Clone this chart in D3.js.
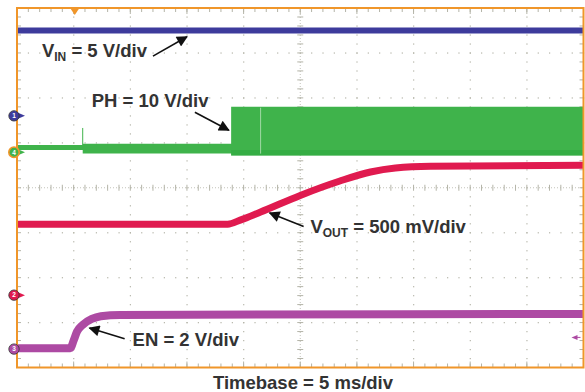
<!DOCTYPE html>
<html>
<head>
<meta charset="utf-8">
<script src="https://cdn.jsdelivr.net/npm/d3@7"></script>
<style>
  html, body { margin: 0; padding: 0; background: #fff; }
  svg { display: block; }
  text { font-family: "Liberation Sans", Arial, sans-serif; font-weight: bold; fill: #333; }
</style>
</head>
<body>
<svg id="chart" width="585" height="392"></svg>
<script>
// ---- Data (time in ms, amplitude in screen divisions) ----
const timeDomain = [0, 50];          // 10 div x 5 ms/div
const divDomain = [-4, 4];           // 8 vertical divisions
const vinTrace = [[0, 3.50], [50, 3.50]];
const voutTrace = [[0, -0.81], [18.6, -0.81], [19.7, -0.72], [21.5, -0.54], [25.0, -0.17],
                   [28.5, 0.15], [31.2, 0.35], [33.4, 0.44], [36.5, 0.48], [50, 0.50]];
const enTrace = [[0, -3.57], [4.7, -3.57], [5.0, -3.40], [5.3, -3.20], [5.8, -3.05],
                 [6.6, -2.92], [7.4, -2.86], [9.1, -2.83], [50, -2.81]];
const phBand = [
  {t: 0, lo: 0.84, hi: 0.95}, {t: 5.8, lo: 0.84, hi: 0.95},
  {t: 5.8, lo: 0.76, hi: 0.98}, {t: 18.9, lo: 0.76, hi: 0.98},
  {t: 18.9, lo: 0.72, hi: 1.80}, {t: 50, lo: 0.72, hi: 1.80}
];
const phSpikes = [[5.8, 1.33]];
const phGlitchTimes = [21.5];
const channelLevels = [1.60, 0.79, -2.39, -3.59];
const channelLabels = ["1", "4", "2", "3"];
const triggerTime = 5.1;
const triggerLevel = -3.33;
const labels = [
  {main: "V", sub: "IN", rest: " = 5 V/div", t: 2.2, d: 2.9},
  {main: "PH = 10 V/div", sub: "", rest: "", t: 6.6, d: 1.8},
  {main: "V", sub: "OUT", rest: " = 500 mV/div", t: 25.9, d: -1.0},
  {main: "EN = 2 V/div", sub: "", rest: "", t: 10.2, d: -3.52}
];
const arrows = [
  {from: [12.0, 2.93], to: [15.0, 3.36]},
  {from: [15.7, 1.68], to: [18.7, 1.28]},
  {from: [25.3, -0.86], to: [22.3, -0.56]},
  {from: [9.5, -3.36], to: [6.4, -3.12]}
];
const xTitle = "Timebase = 5 ms/div";

// ---- Colours ----
const colVin = "#3d3b9c", colPh = "#3fb34b", colVout = "#e01a4f", colEn = "#ad4aa3";
const colBorder = "#f0962a", colGrid = "#b4b4a8";
const chanColors = [colVin, colPh, colVout, colEn];

const svg = d3.select("#chart");
const x = d3.scaleLinear().domain(timeDomain).range([17, 583.5]);
const y = d3.scaleLinear().domain(divDomain).range([367.5, 8]);

// ---- Graticule ----
const g = svg.append("g");
const majorX = d3.range(1, 10).map(i => i * 5);
const majorY = d3.range(-3, 4);
const minorX = d3.range(0, 50.01, 1);
const minorY = d3.range(-4, 4.01, 0.2);
majorX.forEach(t => {
  if (t === 25) return;
  g.selectAll(null).data(minorY).enter().append("rect")
    .attr("x", x(t) - 0.5).attr("y", d => y(d) - 0.5).attr("width", 1.2).attr("height", 1.2)
    .attr("fill", colGrid);
});
majorY.forEach(v => {
  if (v === 0) return;
  g.selectAll(null).data(minorX).enter().append("rect")
    .attr("x", d => x(d) - 0.5).attr("y", y(v) - 0.5).attr("width", 1.2).attr("height", 1.2)
    .attr("fill", colGrid);
});
g.append("line").attr("x1", x(0)).attr("x2", x(50)).attr("y1", y(0)).attr("y2", y(0))
  .attr("stroke", colGrid).attr("stroke-width", 0.8).attr("stroke-dasharray", "1,2");
g.append("line").attr("x1", x(25)).attr("x2", x(25)).attr("y1", y(4)).attr("y2", y(-4))
  .attr("stroke", colGrid).attr("stroke-width", 0.8).attr("stroke-dasharray", "1,2");
g.selectAll(null).data(minorX).enter().append("line")
  .attr("x1", d => x(d)).attr("x2", d => x(d)).attr("y1", y(0) - 3).attr("y2", y(0) + 3)
  .attr("stroke", colGrid).attr("stroke-width", 1);
g.selectAll(null).data(minorY).enter().append("line")
  .attr("y1", d => y(d)).attr("y2", d => y(d)).attr("x1", x(25) - 3).attr("x2", x(25) + 3)
  .attr("stroke", colGrid).attr("stroke-width", 1);
g.selectAll(null).data(minorX).enter().append("line")
  .attr("x1", d => x(d)).attr("x2", d => x(d)).attr("y1", y(4)).attr("y2", y(4) + 4)
  .attr("stroke", colGrid).attr("stroke-width", 1);
g.selectAll(null).data(minorX).enter().append("line")
  .attr("x1", d => x(d)).attr("x2", d => x(d)).attr("y1", y(-4)).attr("y2", y(-4) - 4)
  .attr("stroke", colGrid).attr("stroke-width", 1);
g.selectAll(null).data(minorY).enter().append("line")
  .attr("y1", d => y(d)).attr("y2", d => y(d)).attr("x1", x(0)).attr("x2", x(0) + 4)
  .attr("stroke", colGrid).attr("stroke-width", 1);
g.selectAll(null).data(minorY).enter().append("line")
  .attr("y1", d => y(d)).attr("y2", d => y(d)).attr("x1", x(50)).attr("x2", x(50) - 4)
  .attr("stroke", colGrid).attr("stroke-width", 1);
g.selectAll(null).data(majorX).enter().append("line")
  .attr("x1", d => x(d)).attr("x2", d => x(d)).attr("y1", y(4)).attr("y2", y(4) + 6)
  .attr("stroke", colGrid).attr("stroke-width", 1);
g.selectAll(null).data(majorX).enter().append("line")
  .attr("x1", d => x(d)).attr("x2", d => x(d)).attr("y1", y(-4)).attr("y2", y(-4) - 6)
  .attr("stroke", colGrid).attr("stroke-width", 1);

// ---- Traces ----
const line = d3.line().x(d => x(d[0])).y(d => y(d[1])).curve(d3.curveMonotoneX);
const phArea = d3.area().x(d => x(d.t)).y0(d => y(d.lo)).y1(d => y(d.hi));
svg.append("path").datum(phBand).attr("d", phArea).attr("fill", colPh);
svg.append("path").datum(phBand.filter(d => d.t >= 18.9).slice(1))
  .attr("d", d3.area().x(d => x(d.t)).y0(d => y(d.lo)).y1(d => y(d.lo + 0.12)))
  .attr("fill", "#2fa83f").attr("opacity", 0.6);
svg.selectAll(null).data(phSpikes).enter().append("line")
  .attr("x1", d => x(d[0])).attr("x2", d => x(d[0])).attr("y1", y(0.9)).attr("y2", d => y(d[1]))
  .attr("stroke", colPh).attr("stroke-width", 1);
svg.selectAll(null).data(phGlitchTimes).enter().append("line")
  .attr("x1", d => x(d)).attr("x2", d => x(d)).attr("y1", y(1.78)).attr("y2", y(0.76))
  .attr("stroke", "#9fd9a4").attr("stroke-width", 1);

svg.append("path").datum(vinTrace).attr("d", line).attr("fill", "none")
  .attr("stroke", colVin).attr("stroke-width", 6);
svg.append("path").datum(voutTrace).attr("d", line).attr("fill", "none")
  .attr("stroke", colVout).attr("stroke-width", 7);
svg.append("path").datum(enTrace).attr("d", line).attr("fill", "none")
  .attr("stroke", colEn).attr("stroke-width", 8);

// ---- Border ----
svg.append("path")
  .attr("d", `M${x(0)},${y(-4)} V${y(4)} H${x(50)} V${y(-4)} Z`)
  .attr("fill", "none").attr("stroke", colBorder).attr("stroke-width", 2);

svg.append("path")
  .attr("d", `M${x(triggerTime) - 4},${y(4) + 1} L${x(triggerTime) + 4},${y(4) + 1} L${x(triggerTime)},${y(4) + 7} Z`)
  .attr("fill", colBorder);
svg.append("path")
  .attr("d", `M${x(50) - 12},${y(triggerLevel)} L${x(50) - 6},${y(triggerLevel) - 2.5} L${x(50) - 6},${y(triggerLevel) + 2.5} Z`)
  .attr("fill", colEn);
svg.append("line").attr("x1", x(50) - 8).attr("x2", x(50) - 3)
  .attr("y1", y(triggerLevel)).attr("y2", y(triggerLevel)).attr("stroke", colEn).attr("stroke-width", 1);

channelLevels.forEach((lv, i) => {
  const cy = y(lv), cx = 14;
  svg.append("path").attr("d", `M${cx + 4},${cy - 3} L${cx + 11},${cy} L${cx + 4},${cy + 3} Z`)
    .attr("fill", chanColors[i]);
  svg.append("circle").attr("cx", cx).attr("cy", cy).attr("r", 5.2)
    .attr("fill", chanColors[i])
    .attr("stroke", channelLabels[i] === "4" ? colBorder : "#333")
    .attr("stroke-width", channelLabels[i] === "4" ? 1.6 : 0.8);
  svg.append("text").attr("x", cx).attr("y", cy + 2.3).attr("text-anchor", "middle")
    .style("font-size", "6.5px").style("fill", "#fff").text(channelLabels[i]);
});

// ---- Annotation labels ----
labels.forEach(l => {
  const t = svg.append("text").attr("x", x(l.t)).attr("y", y(l.d)).style("font-size", "18.5px");
  t.append("tspan").text(l.main);
  if (l.sub) {
    t.append("tspan").attr("dy", 4).style("font-size", "12px").text(l.sub);
    t.append("tspan").attr("dy", -4).text(l.rest);
  }
});
const defs = svg.append("defs");
defs.append("marker").attr("id", "ah").attr("viewBox", "0 0 10 10").attr("refX", 9).attr("refY", 5)
  .attr("markerWidth", 12).attr("markerHeight", 11).attr("markerUnits", "userSpaceOnUse")
  .attr("orient", "auto")
  .append("path").attr("d", "M0,0 L10,5 L0,10 Z").attr("fill", "#111");
arrows.forEach(a => {
  svg.append("line").attr("x1", x(a.from[0])).attr("y1", y(a.from[1]))
    .attr("x2", x(a.to[0])).attr("y2", y(a.to[1]))
    .attr("stroke", "#111").attr("stroke-width", 1.6).attr("marker-end", "url(#ah)");
});

svg.append("text").attr("x", 303).attr("y", 389).attr("text-anchor", "middle")
  .style("font-size", "18.5px").text(xTitle);
</script>
</body>
</html>
